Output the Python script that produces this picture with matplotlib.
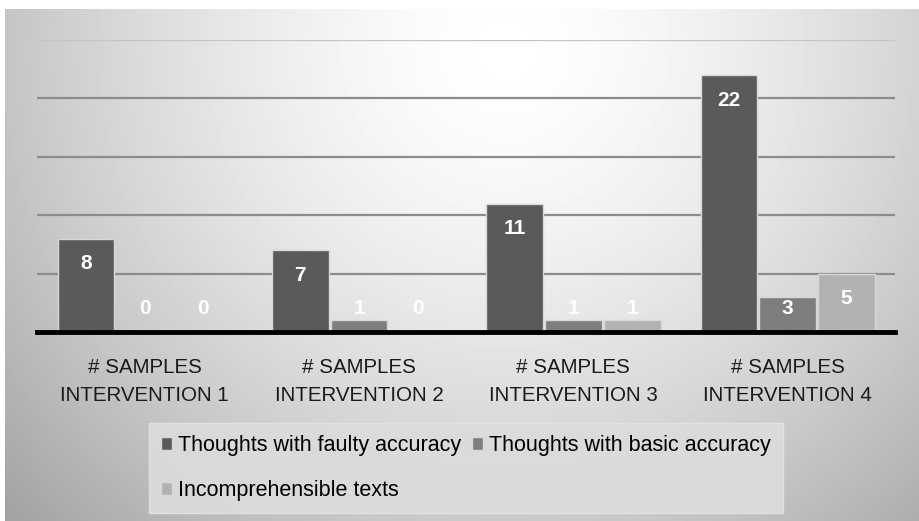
import matplotlib
matplotlib.use("Agg")
import matplotlib.pyplot as plt
import numpy as np

categories = ["# SAMPLES\nINTERVENTION 1", "# SAMPLES\nINTERVENTION 2",
              "# SAMPLES\nINTERVENTION 3", "# SAMPLES\nINTERVENTION 4"]
faulty = [8, 7, 11, 22]
basic = [0, 1, 1, 3]
incomprehensible = [0, 0, 1, 5]
series_names = ["Thoughts with faulty accuracy", "Thoughts with basic accuracy",
                "Incomprehensible texts"]
colors = ["#5a5a5a", "#7e7e7e", "#b2b2b2"]

plt.rcParams["font.family"] = ["Liberation Sans", "DejaVu Sans"]

fig = plt.figure(figsize=(9.2, 5.21), dpi=100)
fig.patch.set_facecolor("white")

# radial gray background
bg = fig.add_axes([5 / 920, 0, 915 / 920, 512 / 521])
yy, xx = np.mgrid[0:512, 0:915]
d = np.sqrt(((xx - 500) / 600.0) ** 2 + ((yy - 40) / 600.0) ** 2)
shade = np.clip(1.0 - 0.30 * d ** 1.5, 0.64, 1.0)
bg.imshow(shade, cmap="gray", vmin=0, vmax=1, aspect="auto",
          interpolation="bilinear")
bg.axis("off")

ax = fig.add_axes([37.5 / 920, 189 / 521, 857.5 / 920, 292 / 521])
ax.patch.set_alpha(0)

x = np.arange(len(categories))
w = 0.265
step = 0.274
all_series = [faulty, basic, incomprehensible]
handles = []
for i, (vals, c, name) in enumerate(zip(all_series, colors, series_names)):
    pos = x + (i - 1) * step
    bars = ax.bar(pos, vals, width=w, color=c, edgecolor="#d8d8d8",
                  linewidth=1, zorder=3, label=name)
    handles.append(bars)
    for p, v in zip(pos, vals):
        ty = max(v - 2.15, 2.0)
        ax.text(p, ty, str(v), ha="center", va="center", color="white",
                fontsize=15, fontweight="bold", zorder=4)

ax.set_xlim(-0.5, len(categories) - 0.5)
ax.set_ylim(0, 25)
ax.set_yticks([5, 10, 15, 20, 25])
ax.yaxis.grid(True, color="#8c8c8c", linewidth=1.6, zorder=1)
ax.get_ygridlines()[-1].set_color("#c4c4c4")
ax.tick_params(axis="y", left=False, labelleft=False)
ax.tick_params(axis="x", length=0, pad=19)
ax.set_xticks(x)
ax.set_xticklabels(categories, fontsize=14.8, color="#1a1a1a",
                   linespacing=1.55)
for s in ["top", "right", "left"]:
    ax.spines[s].set_visible(False)
ax.spines["bottom"].set_linewidth(3.5)
ax.spines["bottom"].set_color("black")
ax.spines["bottom"].set_zorder(5)

order = [handles[0], handles[2], handles[1]]
leg = fig.legend(order, [h.get_label() for h in order], ncol=2,
                 loc="center", bbox_to_anchor=(466 / 920, (521 - 468) / 521),
                 frameon=True, fontsize=15.5, handlelength=0.5,
                 handleheight=0.55, handletextpad=0.3, columnspacing=0.5,
                 labelspacing=1.1, borderpad=0.55, borderaxespad=0,
                 fancybox=False)
leg.get_frame().set_facecolor("#dcdcdc")
leg.get_frame().set_edgecolor("#e4e4e4")
leg.get_frame().set_alpha(0.9)

fig.savefig("out.png", dpi=100)
